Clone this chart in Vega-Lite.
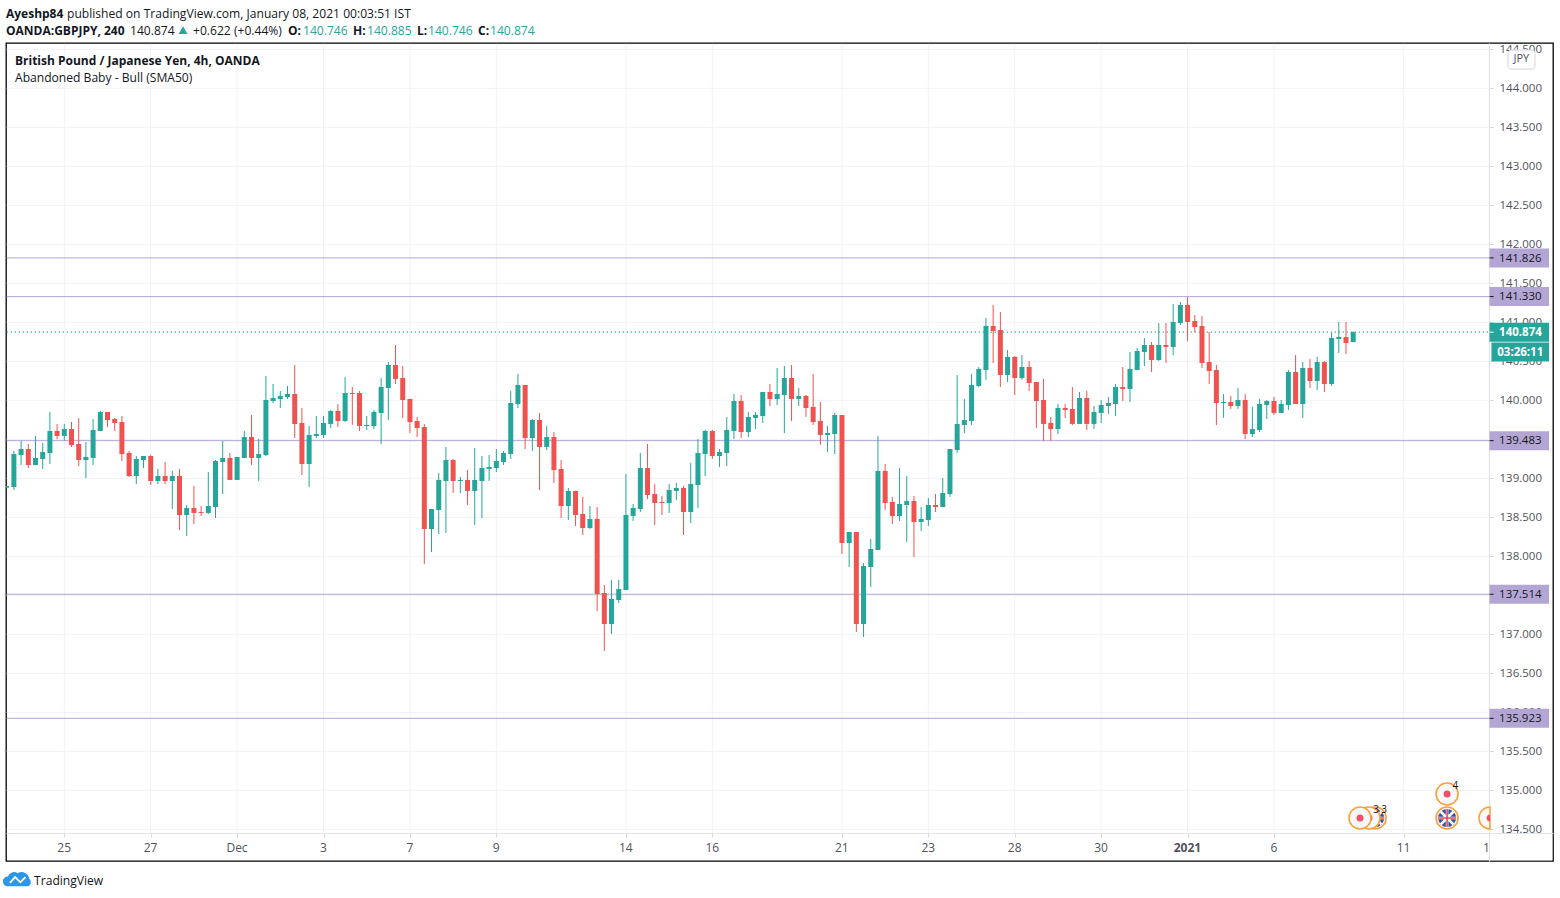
{
  "$schema": "https://vega.github.io/schema/vega-lite/v6.json",
  "width": 1547,
  "height": 818,
  "autosize": "none",
  "padding": {"left": 6, "top": 43, "right": 7, "bottom": 37},
  "background": "#ffffff",
  "config": {
    "font": "Open Sans",
    "view": {"stroke": "#000000", "strokeWidth": 1.3}
  },
  "data": {"values": [{"note": "annotation"}]},
  "datasets": {
    "candles": [
      {"bar":-8,"o":138.88,"h":138.902,"l":138.88,"c":138.902},
      {"bar":-7,"o":138.889,"h":139.35,"l":138.85,"c":139.312},
      {"bar":-6,"o":139.299,"h":139.479,"l":139.171,"c":139.376},
      {"bar":-5,"o":139.376,"h":139.44,"l":139.132,"c":139.171},
      {"bar":-4,"o":139.171,"h":139.543,"l":139.171,"c":139.261},
      {"bar":-3,"o":139.248,"h":139.453,"l":139.12,"c":139.338},
      {"bar":-2,"o":139.325,"h":139.85,"l":139.184,"c":139.607},
      {"bar":-1,"o":139.607,"h":139.697,"l":139.504,"c":139.543},
      {"bar":0,"o":139.543,"h":139.697,"l":139.479,"c":139.632},
      {"bar":1,"o":139.632,"h":139.722,"l":139.402,"c":139.427},
      {"bar":2,"o":139.44,"h":139.774,"l":139.158,"c":139.235},
      {"bar":3,"o":139.235,"h":139.466,"l":139.004,"c":139.274},
      {"bar":4,"o":139.261,"h":139.761,"l":139.171,"c":139.62},
      {"bar":5,"o":139.607,"h":139.863,"l":139.607,"c":139.85},
      {"bar":6,"o":139.85,"h":139.85,"l":139.658,"c":139.748},
      {"bar":7,"o":139.761,"h":139.774,"l":139.607,"c":139.709},
      {"bar":8,"o":139.722,"h":139.799,"l":139.222,"c":139.312},
      {"bar":9,"o":139.325,"h":139.35,"l":139.017,"c":139.03},
      {"bar":10,"o":139.03,"h":139.286,"l":138.927,"c":139.248},
      {"bar":11,"o":139.235,"h":139.286,"l":139.132,"c":139.286},
      {"bar":12,"o":139.286,"h":139.299,"l":138.915,"c":138.966},
      {"bar":13,"o":138.966,"h":139.12,"l":138.927,"c":139.03},
      {"bar":14,"o":139.03,"h":139.209,"l":138.927,"c":138.966},
      {"bar":15,"o":138.966,"h":139.094,"l":138.607,"c":139.03},
      {"bar":16,"o":139.03,"h":139.12,"l":138.338,"c":138.53},
      {"bar":17,"o":138.53,"h":138.658,"l":138.261,"c":138.62},
      {"bar":18,"o":138.62,"h":138.902,"l":138.415,"c":138.556},
      {"bar":19,"o":138.568,"h":138.645,"l":138.517,"c":138.556},
      {"bar":20,"o":138.556,"h":139.081,"l":138.543,"c":138.645},
      {"bar":21,"o":138.632,"h":139.235,"l":138.491,"c":139.222},
      {"bar":22,"o":139.209,"h":139.479,"l":138.799,"c":139.261},
      {"bar":23,"o":139.261,"h":139.325,"l":138.979,"c":138.979},
      {"bar":24,"o":138.979,"h":139.274,"l":138.979,"c":139.274},
      {"bar":25,"o":139.261,"h":139.607,"l":139.261,"c":139.53},
      {"bar":26,"o":139.53,"h":139.812,"l":139.171,"c":139.261},
      {"bar":27,"o":139.261,"h":139.504,"l":138.966,"c":139.312},
      {"bar":28,"o":139.299,"h":140.312,"l":139.286,"c":140.004},
      {"bar":29,"o":139.991,"h":140.209,"l":139.966,"c":140.03},
      {"bar":30,"o":140.017,"h":140.12,"l":139.902,"c":140.056},
      {"bar":31,"o":140.043,"h":140.184,"l":140.017,"c":140.081},
      {"bar":32,"o":140.081,"h":140.453,"l":139.517,"c":139.697},
      {"bar":33,"o":139.709,"h":139.902,"l":139.043,"c":139.184},
      {"bar":34,"o":139.184,"h":139.671,"l":138.889,"c":139.556},
      {"bar":35,"o":139.543,"h":139.799,"l":139.517,"c":139.568},
      {"bar":36,"o":139.556,"h":139.799,"l":139.517,"c":139.709},
      {"bar":37,"o":139.697,"h":139.876,"l":139.645,"c":139.863},
      {"bar":38,"o":139.863,"h":139.953,"l":139.658,"c":139.735},
      {"bar":39,"o":139.735,"h":140.299,"l":139.722,"c":140.094},
      {"bar":40,"o":140.094,"h":140.171,"l":139.684,"c":140.081},
      {"bar":41,"o":140.094,"h":140.12,"l":139.607,"c":139.671},
      {"bar":42,"o":139.671,"h":139.799,"l":139.62,"c":139.684},
      {"bar":43,"o":139.671,"h":139.876,"l":139.632,"c":139.85},
      {"bar":44,"o":139.838,"h":140.286,"l":139.44,"c":140.171},
      {"bar":45,"o":140.158,"h":140.491,"l":139.748,"c":140.453},
      {"bar":46,"o":140.453,"h":140.709,"l":140.209,"c":140.274},
      {"bar":47,"o":140.286,"h":140.44,"l":139.774,"c":140.004},
      {"bar":48,"o":140.017,"h":140.017,"l":139.581,"c":139.722},
      {"bar":49,"o":139.735,"h":139.786,"l":139.53,"c":139.645},
      {"bar":50,"o":139.658,"h":139.697,"l":137.902,"c":138.35},
      {"bar":51,"o":138.35,"h":138.607,"l":138.056,"c":138.607},
      {"bar":52,"o":138.594,"h":139.068,"l":138.286,"c":138.979},
      {"bar":53,"o":138.966,"h":139.402,"l":138.299,"c":139.235},
      {"bar":54,"o":139.235,"h":139.248,"l":138.812,"c":138.966},
      {"bar":55,"o":138.966,"h":139.017,"l":138.812,"c":138.979},
      {"bar":56,"o":138.979,"h":139.107,"l":138.658,"c":138.838},
      {"bar":57,"o":138.838,"h":139.389,"l":138.402,"c":138.979},
      {"bar":58,"o":138.966,"h":139.286,"l":138.491,"c":139.132},
      {"bar":59,"o":139.12,"h":139.299,"l":138.966,"c":139.145},
      {"bar":60,"o":139.132,"h":139.376,"l":139.081,"c":139.222},
      {"bar":61,"o":139.209,"h":139.35,"l":139.171,"c":139.325},
      {"bar":62,"o":139.312,"h":140.12,"l":139.248,"c":139.966},
      {"bar":63,"o":139.953,"h":140.338,"l":139.902,"c":140.197},
      {"bar":64,"o":140.197,"h":140.197,"l":139.376,"c":139.517},
      {"bar":65,"o":139.517,"h":139.761,"l":139.35,"c":139.748},
      {"bar":66,"o":139.748,"h":139.838,"l":138.85,"c":139.402},
      {"bar":67,"o":139.402,"h":139.671,"l":139.363,"c":139.53},
      {"bar":68,"o":139.53,"h":139.594,"l":138.94,"c":139.107},
      {"bar":69,"o":139.12,"h":139.235,"l":138.491,"c":138.645},
      {"bar":70,"o":138.645,"h":138.876,"l":138.466,"c":138.838},
      {"bar":71,"o":138.838,"h":138.838,"l":138.389,"c":138.53},
      {"bar":72,"o":138.543,"h":138.761,"l":138.274,"c":138.363},
      {"bar":73,"o":138.363,"h":138.645,"l":138.35,"c":138.479},
      {"bar":74,"o":138.479,"h":138.632,"l":137.299,"c":137.517},
      {"bar":75,"o":137.53,"h":137.632,"l":136.786,"c":137.132},
      {"bar":76,"o":137.132,"h":137.697,"l":137.004,"c":137.453},
      {"bar":77,"o":137.44,"h":137.697,"l":137.402,"c":137.581},
      {"bar":78,"o":137.568,"h":139.056,"l":137.568,"c":138.53},
      {"bar":79,"o":138.517,"h":138.671,"l":138.453,"c":138.62},
      {"bar":80,"o":138.607,"h":139.325,"l":138.568,"c":139.132},
      {"bar":81,"o":139.132,"h":139.44,"l":138.735,"c":138.786},
      {"bar":82,"o":138.799,"h":138.927,"l":138.402,"c":138.684},
      {"bar":83,"o":138.697,"h":138.774,"l":138.53,"c":138.684},
      {"bar":84,"o":138.684,"h":138.927,"l":138.556,"c":138.85},
      {"bar":85,"o":138.838,"h":138.94,"l":138.722,"c":138.876},
      {"bar":86,"o":138.876,"h":138.902,"l":138.274,"c":138.568},
      {"bar":87,"o":138.568,"h":139.197,"l":138.427,"c":138.927},
      {"bar":88,"o":138.915,"h":139.504,"l":138.62,"c":139.325},
      {"bar":89,"o":139.312,"h":139.62,"l":139.03,"c":139.607},
      {"bar":90,"o":139.607,"h":139.62,"l":139.248,"c":139.286},
      {"bar":91,"o":139.286,"h":139.376,"l":139.145,"c":139.338},
      {"bar":92,"o":139.325,"h":139.786,"l":139.158,"c":139.62},
      {"bar":93,"o":139.607,"h":140.081,"l":139.504,"c":139.991},
      {"bar":94,"o":139.991,"h":140.068,"l":139.517,"c":139.594},
      {"bar":95,"o":139.594,"h":139.85,"l":139.53,"c":139.786},
      {"bar":96,"o":139.774,"h":139.85,"l":139.632,"c":139.812},
      {"bar":97,"o":139.799,"h":140.107,"l":139.709,"c":140.107},
      {"bar":98,"o":140.107,"h":140.209,"l":139.927,"c":140.017},
      {"bar":99,"o":140.017,"h":140.415,"l":139.94,"c":140.081},
      {"bar":100,"o":140.068,"h":140.44,"l":139.581,"c":140.286},
      {"bar":101,"o":140.286,"h":140.453,"l":139.735,"c":140.017},
      {"bar":102,"o":140.017,"h":140.158,"l":139.927,"c":140.056},
      {"bar":103,"o":140.056,"h":140.068,"l":139.786,"c":139.902},
      {"bar":104,"o":139.915,"h":140.338,"l":139.684,"c":139.722},
      {"bar":105,"o":139.735,"h":139.979,"l":139.427,"c":139.556},
      {"bar":106,"o":139.556,"h":139.671,"l":139.338,"c":139.581},
      {"bar":107,"o":139.568,"h":139.838,"l":139.312,"c":139.812},
      {"bar":108,"o":139.812,"h":139.812,"l":138.03,"c":138.171},
      {"bar":109,"o":138.171,"h":138.312,"l":137.863,"c":138.312},
      {"bar":110,"o":138.312,"h":138.312,"l":137.03,"c":137.132},
      {"bar":111,"o":137.132,"h":137.915,"l":136.966,"c":137.876},
      {"bar":112,"o":137.863,"h":138.222,"l":137.607,"c":138.094},
      {"bar":113,"o":138.081,"h":139.543,"l":138.081,"c":139.094},
      {"bar":114,"o":139.094,"h":139.184,"l":138.594,"c":138.684},
      {"bar":115,"o":138.697,"h":138.761,"l":138.415,"c":138.517},
      {"bar":116,"o":138.517,"h":139.132,"l":138.453,"c":138.671},
      {"bar":117,"o":138.658,"h":139.03,"l":138.184,"c":138.709},
      {"bar":118,"o":138.709,"h":138.774,"l":137.991,"c":138.44},
      {"bar":119,"o":138.44,"h":138.632,"l":138.325,"c":138.479},
      {"bar":120,"o":138.466,"h":138.748,"l":138.389,"c":138.658},
      {"bar":121,"o":138.658,"h":138.799,"l":138.568,"c":138.632},
      {"bar":122,"o":138.632,"h":139.004,"l":138.632,"c":138.812},
      {"bar":123,"o":138.799,"h":139.376,"l":138.761,"c":139.376},
      {"bar":124,"o":139.363,"h":140.325,"l":139.325,"c":139.697},
      {"bar":125,"o":139.684,"h":140.017,"l":139.581,"c":139.748},
      {"bar":126,"o":139.735,"h":140.338,"l":139.684,"c":140.197},
      {"bar":127,"o":140.184,"h":140.427,"l":140.171,"c":140.402},
      {"bar":128,"o":140.389,"h":141.056,"l":140.261,"c":140.953},
      {"bar":129,"o":140.953,"h":141.222,"l":140.479,"c":140.889},
      {"bar":130,"o":140.902,"h":141.132,"l":140.171,"c":140.325},
      {"bar":131,"o":140.325,"h":140.645,"l":140.235,"c":140.556},
      {"bar":132,"o":140.556,"h":140.568,"l":140.068,"c":140.286},
      {"bar":133,"o":140.286,"h":140.581,"l":140.261,"c":140.427},
      {"bar":134,"o":140.427,"h":140.504,"l":140.12,"c":140.222},
      {"bar":135,"o":140.235,"h":140.235,"l":139.645,"c":139.991},
      {"bar":136,"o":140.004,"h":140.274,"l":139.479,"c":139.697},
      {"bar":137,"o":139.709,"h":139.786,"l":139.479,"c":139.632},
      {"bar":138,"o":139.632,"h":139.953,"l":139.568,"c":139.902},
      {"bar":139,"o":139.902,"h":139.953,"l":139.774,"c":139.876},
      {"bar":140,"o":139.889,"h":140.171,"l":139.684,"c":139.697},
      {"bar":141,"o":139.697,"h":140.107,"l":139.697,"c":140.03},
      {"bar":142,"o":140.03,"h":140.12,"l":139.62,"c":139.697},
      {"bar":143,"o":139.697,"h":139.927,"l":139.632,"c":139.85},
      {"bar":144,"o":139.838,"h":140.004,"l":139.709,"c":139.94},
      {"bar":145,"o":139.927,"h":140.043,"l":139.825,"c":139.966},
      {"bar":146,"o":139.953,"h":140.209,"l":139.799,"c":140.171},
      {"bar":147,"o":140.171,"h":140.427,"l":139.991,"c":140.145},
      {"bar":148,"o":140.145,"h":140.62,"l":139.979,"c":140.402},
      {"bar":149,"o":140.389,"h":140.671,"l":140.389,"c":140.632},
      {"bar":150,"o":140.62,"h":140.799,"l":140.44,"c":140.709},
      {"bar":151,"o":140.709,"h":140.748,"l":140.363,"c":140.517},
      {"bar":152,"o":140.517,"h":140.991,"l":140.504,"c":140.709},
      {"bar":153,"o":140.709,"h":140.991,"l":140.479,"c":140.684},
      {"bar":154,"o":140.684,"h":141.235,"l":140.581,"c":141.004},
      {"bar":155,"o":140.991,"h":141.261,"l":140.966,"c":141.222},
      {"bar":156,"o":141.222,"h":141.325,"l":140.761,"c":141.004},
      {"bar":157,"o":141.017,"h":141.094,"l":140.876,"c":140.94},
      {"bar":158,"o":140.953,"h":141.081,"l":140.415,"c":140.479},
      {"bar":159,"o":140.491,"h":140.876,"l":140.209,"c":140.376},
      {"bar":160,"o":140.389,"h":140.453,"l":139.684,"c":139.966},
      {"bar":161,"o":139.966,"h":140.081,"l":139.774,"c":139.979},
      {"bar":162,"o":139.979,"h":140.056,"l":139.889,"c":139.927},
      {"bar":163,"o":139.927,"h":140.158,"l":139.889,"c":140.004},
      {"bar":164,"o":140.004,"h":140.081,"l":139.504,"c":139.568},
      {"bar":165,"o":139.568,"h":139.915,"l":139.53,"c":139.632},
      {"bar":166,"o":139.62,"h":140.017,"l":139.594,"c":139.953},
      {"bar":167,"o":139.94,"h":140.004,"l":139.761,"c":139.991},
      {"bar":168,"o":139.991,"h":140.043,"l":139.812,"c":139.838},
      {"bar":169,"o":139.838,"h":140.004,"l":139.838,"c":139.953},
      {"bar":170,"o":139.94,"h":140.389,"l":139.876,"c":140.363},
      {"bar":171,"o":140.363,"h":140.581,"l":139.953,"c":139.953},
      {"bar":172,"o":139.953,"h":140.491,"l":139.774,"c":140.415},
      {"bar":173,"o":140.415,"h":140.53,"l":140.158,"c":140.248},
      {"bar":174,"o":140.248,"h":140.556,"l":140.132,"c":140.491},
      {"bar":175,"o":140.491,"h":140.504,"l":140.107,"c":140.209},
      {"bar":176,"o":140.209,"h":140.863,"l":140.184,"c":140.799},
      {"bar":177,"o":140.786,"h":141.004,"l":140.607,"c":140.812},
      {"bar":178,"o":140.812,"h":141.004,"l":140.594,"c":140.735},
      {"bar":179,"o":140.746,"h":140.885,"l":140.746,"c":140.874}
    ],
    "levels": [{"price":141.826},{"price":141.33},{"price":139.483},{"price":137.514},{"price":135.923}],
    "last": [{"price":140.874}],
    "countdown": [{"price":140.619,"label":"03:26:11"}],
    "priceTicks": [
      {"price":134.5},{"price":135},{"price":135.5},{"price":136},{"price":136.5},{"price":137},{"price":137.5},
      {"price":138},{"price":138.5},{"price":139},{"price":139.5},{"price":140},{"price":140.5},{"price":141},
      {"price":141.5},{"price":142},{"price":142.5},{"price":143},{"price":143.5},{"price":144},{"price":144.5}
    ],
    "timeTicks": [
      {"bar":0},{"bar":12},{"bar":24},{"bar":36},{"bar":48},{"bar":60},{"bar":78},{"bar":90},
      {"bar":108},{"bar":120},{"bar":132},{"bar":144},{"bar":156},{"bar":168},{"bar":186}
    ],
    "eventFlags": [
      {"bar":182.05,"price":134.645},
      {"bar":192.04,"price":134.645}
    ],
    "eventMid": [{"bar":181.2,"price":134.645}],
    "eventDots": [
      {"bar":179.95,"price":134.645},
      {"bar":192.04,"price":134.953}
    ],
    "eventEdge": [{"bar":198,"price":134.645}],
    "eventCounts": [
      {"bar":182.2,"price":134.748,"label":"3"},
      {"bar":183.3,"price":134.748,"label":"3"},
      {"bar":193.2,"price":135.055,"label":"4"}
    ],
    "textBold": [
      {"label":"Ayeshp84","bar":-8.1,"price":144.965},
      {"label":"OANDA:GBPJPY, 240","bar":-8.1,"price":144.747},
      {"label":"O:","bar":31.07,"price":144.747},
      {"label":"H:","bar":40.1,"price":144.747},
      {"label":"L:","bar":48.99,"price":144.747},
      {"label":"C:","bar":57.46,"price":144.747},
      {"label":"British Pound / Japanese Yen, 4h, OANDA","bar":-6.85,"price":144.365}
    ],
    "textNormal": [
      {"label":"published on TradingView.com, January 08, 2021 00:03:51 IST","bar":0.375,"price":144.965},
      {"label":"140.874","bar":9.125,"price":144.747},
      {"label":"+0.622 (+0.44%)","bar":17.875,"price":144.747},
      {"label":"Abandoned Baby - Bull (SMA50)","bar":-6.85,"price":144.145},
      {"label":"TradingView","bar":-4.2,"price":133.85}
    ],
    "textTeal": [
      {"label":"140.746","bar":33.15,"price":144.747},
      {"label":"140.885","bar":42.04,"price":144.747},
      {"label":"140.746","bar":50.51,"price":144.747},
      {"label":"140.874","bar":59.12,"price":144.747}
    ]
  },
  "layer": [
    {
      "data": {"name": "priceTicks"},
      "mark": {"type": "rule", "color": "#f1f2f5", "strokeWidth": 1},
      "encoding": {
        "x": {
          "datum": -8,
          "type": "quantitative",
          "scale": {"domain": [-8.097, 206.75], "nice": false, "zero": false, "padding": 0},
          "axis": {
            "title": null,
            "orient": "bottom",
            "offset": -28,
            "grid": false,
            "values": [0,12,24,36,48,60,78,90,108,120,132,144,156,168,186,198],
            "labelExpr": "{'0':'25','12':'27','24':'Dec','36':'3','48':'7','60':'9','78':'14','90':'16','108':'21','120':'23','132':'28','144':'30','156':'2021','168':'6','186':'11','198':'13'}[datum.value]",
            "labelFontSize": 12,
            "labelColor": "#50535e",
            "labelPadding": 5,
            "labelOffset": -0.6,
            "labelFlush": false,
            "labelOverlap": false,
            "labelFontWeight": {"condition": {"test": "datum.value == 156", "value": "bold"}, "value": "normal"},
            "tickSize": 4,
            "tickColor": "#d6d8de",
            "domainColor": "#e0e3eb",
            "domainWidth": 1.2
          }
        },
        "x2": {"datum": 197.93},
        "y": {
          "field": "price",
          "type": "quantitative",
          "scale": {"domain": [134.094, 144.581], "nice": false, "zero": false, "padding": 0},
          "axis": {
            "title": null,
            "orient": "right",
            "offset": -64,
            "grid": false,
            "values": [134.5,135,135.5,136,136.5,137,137.5,138,138.5,139,139.5,140,140.5,141,141.5,142,142.5,143,143.5,144,144.5],
            "format": ".3f",
            "labelFontSize": 11.5,
            "labelColor": "#50535e",
            "labelPadding": 6,
            "labelOffset": 0.6,
            "labelFlush": false,
            "labelOverlap": false,
            "tickSize": 4,
            "tickColor": "#d6d8de",
            "domainColor": "#e0e3eb",
            "domainWidth": 1.2
          }
        }
      }
    },
    {
      "data": {"name": "timeTicks"},
      "mark": {"type": "rule", "color": "#f1f2f5", "strokeWidth": 1},
      "encoding": {
        "x": {"field": "bar", "type": "quantitative"},
        "y": {"datum": 144.57, "type": "quantitative"},
        "y2": {"datum": 134.45}
      }
    },
    {
      "data": {"name": "levels"},
      "mark": {"type": "rule", "color": "#b3a6d8", "strokeWidth": 1},
      "encoding": {
        "x": {"datum": -8, "type": "quantitative"},
        "x2": {"datum": 197.93},
        "y": {"field": "price", "type": "quantitative"}
      }
    },
    {
      "data": {"name": "last"},
      "mark": {"type": "rule", "color": "#26a69a", "strokeWidth": 1.4, "strokeDash": [1.2, 2.8]},
      "encoding": {
        "x": {"datum": -8, "type": "quantitative"},
        "x2": {"datum": 197.93},
        "y": {"field": "price", "type": "quantitative"}
      }
    },
    {
      "data": {"name": "candles"},
      "mark": {"type": "rule", "strokeWidth": 1, "clip": true},
      "encoding": {
        "x": {"field": "bar", "type": "quantitative"},
        "y": {"field": "h", "type": "quantitative"},
        "y2": {"field": "l"},
        "color": {"condition": {"test": "datum.c >= datum.o", "value": "#26a69a"}, "value": "#ef5350"}
      }
    },
    {
      "data": {"name": "candles"},
      "mark": {"type": "bar", "orient": "vertical", "size": 5, "clip": true},
      "encoding": {
        "x": {"field": "bar", "type": "quantitative"},
        "y": {"field": "o", "type": "quantitative"},
        "y2": {"field": "c"},
        "color": {"condition": {"test": "datum.c >= datum.o", "value": "#26a69a"}, "value": "#ef5350"}
      }
    },
    {
      "data": {"name": "levels"},
      "mark": {"type": "rule", "color": "#b3a6d5", "strokeWidth": 19},
      "encoding": {
        "x": {"datum": 197.93, "type": "quantitative"},
        "x2": {"datum": 206.2},
        "y": {"field": "price", "type": "quantitative"}
      }
    },
    {
      "data": {"name": "last"},
      "mark": {"type": "rule", "color": "#26a69a", "strokeWidth": 19},
      "encoding": {
        "x": {"datum": 197.93, "type": "quantitative"},
        "x2": {"datum": 206.2},
        "y": {"field": "price", "type": "quantitative"}
      }
    },
    {
      "data": {"name": "countdown"},
      "mark": {"type": "rule", "color": "#26a69a", "strokeWidth": 19},
      "encoding": {
        "x": {"datum": 198.2, "type": "quantitative"},
        "x2": {"datum": 206.2},
        "y": {"field": "price", "type": "quantitative"}
      }
    },
    {
      "data": {"name": "levels"},
      "mark": {"type": "rule", "color": "#131722", "strokeWidth": 1},
      "encoding": {
        "x": {"datum": 197.95, "type": "quantitative"},
        "x2": {"datum": 198.5},
        "y": {"field": "price", "type": "quantitative"}
      }
    },
    {
      "data": {"name": "last"},
      "mark": {"type": "rule", "color": "#ffffff", "strokeWidth": 1},
      "encoding": {
        "x": {"datum": 197.95, "type": "quantitative"},
        "x2": {"datum": 198.5},
        "y": {"field": "price", "type": "quantitative"}
      }
    },
    {
      "data": {"name": "levels"},
      "mark": {"type": "text", "align": "left", "baseline": "middle", "dy": 0.8, "fontSize": 11.5, "color": "#131722"},
      "encoding": {
        "x": {"datum": 199.26, "type": "quantitative"},
        "y": {"field": "price", "type": "quantitative"},
        "text": {"field": "price", "type": "quantitative", "format": ".3f"}
      }
    },
    {
      "data": {"name": "last"},
      "mark": {"type": "text", "align": "left", "baseline": "middle", "dy": 0.8, "fontSize": 11.5, "fontWeight": "bold", "color": "#ffffff"},
      "encoding": {
        "x": {"datum": 199.26, "type": "quantitative"},
        "y": {"field": "price", "type": "quantitative"},
        "text": {"field": "price", "type": "quantitative", "format": ".3f"}
      }
    },
    {
      "data": {"name": "countdown"},
      "mark": {"type": "text", "align": "center", "baseline": "middle", "dy": 0.8, "fontSize": 11.5, "fontWeight": "bold", "color": "#ffffff"},
      "encoding": {
        "x": {"datum": 202.2, "type": "quantitative"},
        "y": {"field": "price", "type": "quantitative"},
        "text": {"field": "label"}
      }
    },
    {
      "data": {"name": "eventFlags"},
      "mark": {"type": "point", "filled": false, "shape": "circle", "size": 484, "fill": "#f8f8fb", "fillOpacity": 1, "stroke": "#f7a23b", "strokeWidth": 1.6, "opacity": 1},
      "encoding": {
        "x": {"field": "bar", "type": "quantitative"},
        "y": {"field": "price", "type": "quantitative"}
      }
    },
    {
      "data": {"name": "eventFlags"},
      "mark": {"type": "point", "filled": true, "shape": "circle", "size": 324, "color": "#3d4f9f", "opacity": 1},
      "encoding": {
        "x": {"field": "bar", "type": "quantitative"},
        "y": {"field": "price", "type": "quantitative"}
      }
    },
    {
      "data": {"name": "eventFlags"},
      "mark": {"type": "point", "filled": false, "shape": "M-0.7,-0.7 L0.7,0.7 M-0.7,0.7 L0.7,-0.7 M-1,0 L1,0 M0,-1 L0,1", "size": 324, "stroke": "#ffffff", "strokeWidth": 2.6, "opacity": 1},
      "encoding": {
        "x": {"field": "bar", "type": "quantitative"},
        "y": {"field": "price", "type": "quantitative"}
      }
    },
    {
      "data": {"name": "eventFlags"},
      "mark": {"type": "point", "filled": false, "shape": "M-1,0 L1,0 M0,-1 L0,1", "size": 324, "stroke": "#e04a55", "strokeWidth": 1.6, "opacity": 1},
      "encoding": {
        "x": {"field": "bar", "type": "quantitative"},
        "y": {"field": "price", "type": "quantitative"}
      }
    },
    {
      "data": {"name": "eventMid"},
      "mark": {"type": "point", "filled": false, "shape": "circle", "size": 484, "fill": "#f8f8fb", "fillOpacity": 1, "stroke": "#f7a23b", "strokeWidth": 1.6, "opacity": 1},
      "encoding": {
        "x": {"field": "bar", "type": "quantitative"},
        "y": {"field": "price", "type": "quantitative"}
      }
    },
    {
      "data": {"name": "eventMid"},
      "mark": {"type": "point", "filled": true, "shape": "circle", "size": 49, "color": "#ef5068", "opacity": 1},
      "encoding": {
        "x": {"field": "bar", "type": "quantitative"},
        "y": {"field": "price", "type": "quantitative"}
      }
    },
    {
      "data": {"name": "eventDots"},
      "mark": {"type": "point", "filled": false, "shape": "circle", "size": 484, "fill": "#f8f8fb", "fillOpacity": 1, "stroke": "#f7a23b", "strokeWidth": 1.6, "opacity": 1},
      "encoding": {
        "x": {"field": "bar", "type": "quantitative"},
        "y": {"field": "price", "type": "quantitative"}
      }
    },
    {
      "data": {"name": "eventDots"},
      "mark": {"type": "point", "filled": true, "shape": "circle", "size": 49, "color": "#ef5068", "opacity": 1},
      "encoding": {
        "x": {"field": "bar", "type": "quantitative"},
        "y": {"field": "price", "type": "quantitative"}
      }
    },
    {
      "data": {"name": "eventEdge"},
      "mark": {"type": "point", "filled": false, "shape": "M0,-1 A1,1 0 0 0 0,1 Z", "size": 484, "fill": "#f8f8fb", "fillOpacity": 1, "stroke": "#f7a23b", "strokeWidth": 1.6, "opacity": 1},
      "encoding": {
        "x": {"field": "bar", "type": "quantitative"},
        "y": {"field": "price", "type": "quantitative"}
      }
    },
    {
      "data": {"name": "eventEdge"},
      "mark": {"type": "point", "filled": true, "shape": "M0,-1 A1,1 0 0 0 0,1 Z", "size": 49, "color": "#ef5068", "opacity": 1},
      "encoding": {
        "x": {"field": "bar", "type": "quantitative"},
        "y": {"field": "price", "type": "quantitative"}
      }
    },
    {
      "data": {"name": "eventCounts"},
      "mark": {"type": "text", "align": "center", "baseline": "middle", "fontSize": 10, "color": "#131722"},
      "encoding": {
        "x": {"field": "bar", "type": "quantitative"},
        "y": {"field": "price", "type": "quantitative"},
        "text": {"field": "label"}
      }
    },
    {
      "mark": {"type": "rect", "fill": "#ffffff", "stroke": "#d1d4dc", "strokeWidth": 1, "cornerRadius": 3},
      "encoding": {
        "x": {"datum": 200.5, "type": "quantitative"},
        "x2": {"datum": 204.25},
        "y": {"datum": 144.491, "type": "quantitative"},
        "y2": {"datum": 144.247}
      }
    },
    {
      "mark": {"type": "text", "text": "JPY", "align": "center", "baseline": "middle", "fontSize": 11, "color": "#50535e"},
      "encoding": {
        "x": {"datum": 202.35, "type": "quantitative"},
        "y": {"datum": 144.376, "type": "quantitative"}
      }
    },
    {
      "mark": {"type": "rect", "fill": "#ffffff"},
      "encoding": {
        "x": {"datum": 198.01, "type": "quantitative"},
        "x2": {"datum": 206.65},
        "y": {"datum": 134.44, "type": "quantitative"},
        "y2": {"datum": 134.105}
      }
    },
    {
      "data": {"name": "textBold"},
      "mark": {"type": "text", "align": "left", "baseline": "middle", "dy": 0.7, "fontSize": 12, "fontWeight": "bold", "color": "#131722"},
      "encoding": {
        "x": {"field": "bar", "type": "quantitative"},
        "y": {"field": "price", "type": "quantitative"},
        "text": {"field": "label"}
      }
    },
    {
      "data": {"name": "textNormal"},
      "mark": {"type": "text", "align": "left", "baseline": "middle", "dy": 0.7, "fontSize": 12.1, "color": "#131722"},
      "encoding": {
        "x": {"field": "bar", "type": "quantitative"},
        "y": {"field": "price", "type": "quantitative"},
        "text": {"field": "label"}
      }
    },
    {
      "data": {"name": "textTeal"},
      "mark": {"type": "text", "align": "left", "baseline": "middle", "dy": 0.7, "fontSize": 12.1, "color": "#26a69a"},
      "encoding": {
        "x": {"field": "bar", "type": "quantitative"},
        "y": {"field": "price", "type": "quantitative"},
        "text": {"field": "label"}
      }
    },
    {
      "mark": {"type": "point", "filled": true, "shape": "triangle-up", "size": 80, "color": "#26a69a", "opacity": 1},
      "encoding": {
        "x": {"datum": 16.49, "type": "quantitative"},
        "y": {"datum": 144.747, "type": "quantitative"}
      }
    },
    {
      "mark": {"type": "point", "filled": true, "shape": "M-0.95,0.55 A0.38,0.38 0 0 1 -0.85,-0.2 A0.5,0.5 0 0 1 -0.1,-0.45 A0.6,0.6 0 0 1 0.8,0 A0.33,0.33 0 0 1 0.7,0.55 Z", "size": 676, "color": "#2c97e8", "opacity": 1},
      "encoding": {
        "x": {"datum": -6.29, "type": "quantitative"},
        "y": {"datum": 133.863, "type": "quantitative"}
      }
    },
    {
      "mark": {"type": "point", "filled": false, "shape": "M-0.7,0.3 L-0.3,-0.15 L0.1,0.25 L0.5,-0.15", "size": 676, "stroke": "#ffffff", "strokeWidth": 1.8, "opacity": 1},
      "encoding": {
        "x": {"datum": -6.29, "type": "quantitative"},
        "y": {"datum": 133.863, "type": "quantitative"}
      }
    }
  ]
}
